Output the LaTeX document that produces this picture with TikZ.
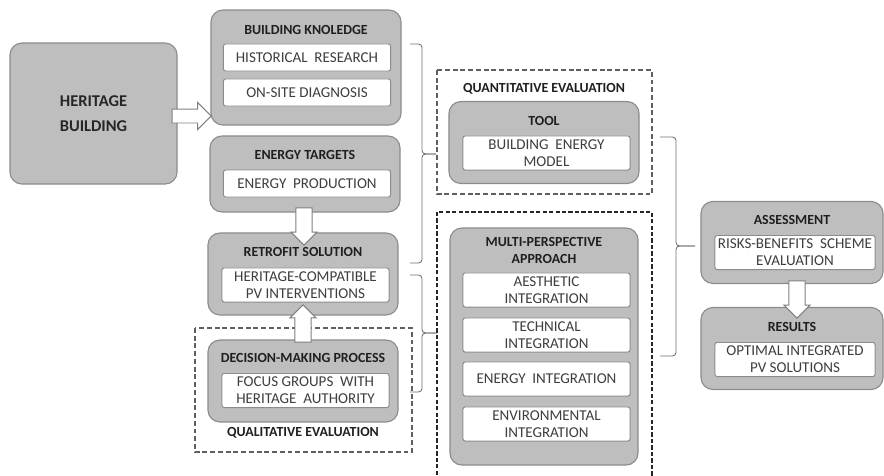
\documentclass[tikz,border=0pt]{standalone}
\usepackage{fontspec}
\setmainfont{Carlito}
\usepackage{tikz}
\usetikzlibrary{positioning,shapes.arrows,calc}
\definecolor{boxgray}{RGB}{190,190,190}
\definecolor{boxedge}{RGB}{140,140,140}
\definecolor{frameline}{RGB}{95,95,95}
\definecolor{braceline}{RGB}{110,110,110}
\definecolor{itemtext}{RGB}{62,62,62}
\tikzset{
  outerbox/.style={
    rectangle,
    rounded corners=8.5pt,
    draw=boxedge,
    line width=0.8pt,
    fill=boxgray,
    minimum width=4.75cm,
    minimum height=2.05cm
  },
  titletext/.style={
    font=\bfseries\fontsize{9.9}{12}\selectfont,
    text=black!88,
    align=center,
    inner sep=0pt
  },
  itembox/.style={
    rectangle,
    rounded corners=1.5pt,
    draw=boxedge,
    line width=0.7pt,
    fill=white,
    minimum width=4.175cm,
    minimum height=0.85cm,
    align=center,
    font=\fontsize{10.7}{12.2}\selectfont,
    text=itemtext,
    inner sep=1pt
  },
  framebox/.style={draw=frameline, line width=0.9pt, dash pattern=on 3.5pt off 2pt},
  boldframe/.style={draw=black!85, line width=1.3pt, dash pattern=on 3pt off 1.6pt},
  brace/.style={draw=braceline, line width=0.6pt, rounded corners=2.5pt},
  blockarrow/.style={
    single arrow,
    draw=black!50,
    fill=white,
    line width=0.7pt,
    inner xsep=0pt,
    inner ysep=0.19cm,
    single arrow head extend=0.125cm,
    minimum height=0.93cm
  }
}

\begin{document}
\begin{tikzpicture}[x=0.025cm, y=-0.025cm]
\clip (0,0) rectangle (884,475);

% dashed evaluation frames
\draw[framebox] (195,328) rectangle (412,452);
\draw[framebox] (437,70) rectangle (652,194);
\draw[boldframe] (437,212) rectangle (652,495);

% left column
\node[outerbox, minimum width=4.175cm, minimum height=3.525cm,
      font=\bfseries\fontsize{11.7}{18}\selectfont, text=black!85, align=center]
      (hb) at (93.5,113.5) {HERITAGE\\BUILDING};

\node[outerbox, minimum height=2.875cm] (bk) at (306,67.5) {};
\node[titletext] (bkt) at (306,30) {BUILDING KNOLEDGE};
\node[itembox, minimum height=0.675cm] (hr) at (307,57.5) {HISTORICAL\ \ RESEARCH};
\node[itembox, minimum height=0.675cm] (osd) at (307,92.5) {ON-SITE DIAGNOSIS};

\node[outerbox, minimum height=1.9cm] (et) at (305,174) {};
\node[titletext] (ett) at (305,155) {ENERGY TARGETS};
\node[itembox, minimum height=0.675cm] (ep) at (307,183.5) {ENERGY\ \ PRODUCTION};

\node[outerbox] (rs) at (303,274) {};
\node[titletext] (rst) at (303,252) {RETROFIT SOLUTION};
\node[itembox] (pv) at (305.5,285) {HERITAGE-COMPATIBLE\\PV INTERVENTIONS};

\node[outerbox] (dm) at (303,381) {};
\node[titletext] (dmt) at (303,358) {DECISION-MAKING PROCESS};
\node[itembox] (fg) at (305.5,390.5) {FOCUS GROUPS\ \ WITH\\HERITAGE\ \ AUTHORITY};
\node[titletext] (qlt) at (303,433) {QUALITATIVE EVALUATION};

% middle column
\node[titletext] (qnt) at (544,89) {QUANTITATIVE EVALUATION};
\node[outerbox] (tool) at (544,142.5) {};
\node[titletext] (toolt) at (544,121) {TOOL};
\node[itembox] (bem) at (546.5,153) {BUILDING\ \ ENERGY\\MODEL};

\node[outerbox, minimum width=4.7cm, minimum height=5.925cm] (mp) at (544,346.5) {};
\node[titletext] (mpt) at (544,250.5) {MULTI-PERSPECTIVE\\APPROACH};
\node[itembox] (ai) at (546.5,290) {AESTHETIC\\INTEGRATION};
\node[itembox] (ti) at (546.5,335) {TECHNICAL\\INTEGRATION};
\node[itembox] (ei) at (546.5,379) {ENERGY\ \ INTEGRATION};
\node[itembox] (evi) at (546.5,424) {ENVIRONMENTAL\\INTEGRATION};

% right column
\node[outerbox, minimum width=4.55cm] (as) at (792,242.5) {};
\node[titletext] (ast) at (792,220) {ASSESSMENT};
\node[itembox, minimum width=4cm] (rb) at (795,252.5) {RISKS-BENEFITS\ \ SCHEME\\EVALUATION};

\node[outerbox, minimum width=4.55cm] (res) at (792,348.5) {};
\node[titletext] (rest) at (792,327) {RESULTS};
\node[itembox, minimum width=4cm] (opv) at (795,359.5) {OPTIMAL INTEGRATED\\PV SOLUTIONS};

% block arrows
\node[blockarrow, minimum height=0.975cm, inner ysep=0.1625cm,
      single arrow head extend=0.1625cm] (a1) at ($(hb.east)+(10.5,2.5)$) {};
\node[blockarrow, rotate=-90] (a2) at ($(et.south)!0.5!(rs.north)$) {};
\node[blockarrow, rotate=90] (a3) at ($(rs.south)!0.5!(dm.north)$) {};
\node[blockarrow, rotate=-90] (a4) at ($(as.south)!0.5!(res.north)+(5,0)$) {};

% braces
\coordinate (b1a) at (410,44);
\coordinate (b1b) at (410,263);
\coordinate (b1m) at (436,154);
\draw[brace] (b1a) -- (422,44) -- (422,154) -- (b1m);
\draw[brace] (b1b) -- (422,263) -- (422,154) -- (b1m);

\coordinate (b2a) at (410,275);
\coordinate (b2b) at (410,392);
\coordinate (b2m) at (437,333);
\draw[brace] (b2a) -- (422,275) -- (422,333) -- (b2m);
\draw[brace] (b2b) -- (422,392) -- (422,333) -- (b2m);

\coordinate (b3a) at (660,137);
\coordinate (b3b) at (660,356);
\coordinate (b3m) at (695,246);
\draw[brace] (b3a) -- (676,137) -- (676,246) -- (b3m);
\draw[brace] (b3b) -- (676,356) -- (676,246) -- (b3m);
\end{tikzpicture}
\end{document}
